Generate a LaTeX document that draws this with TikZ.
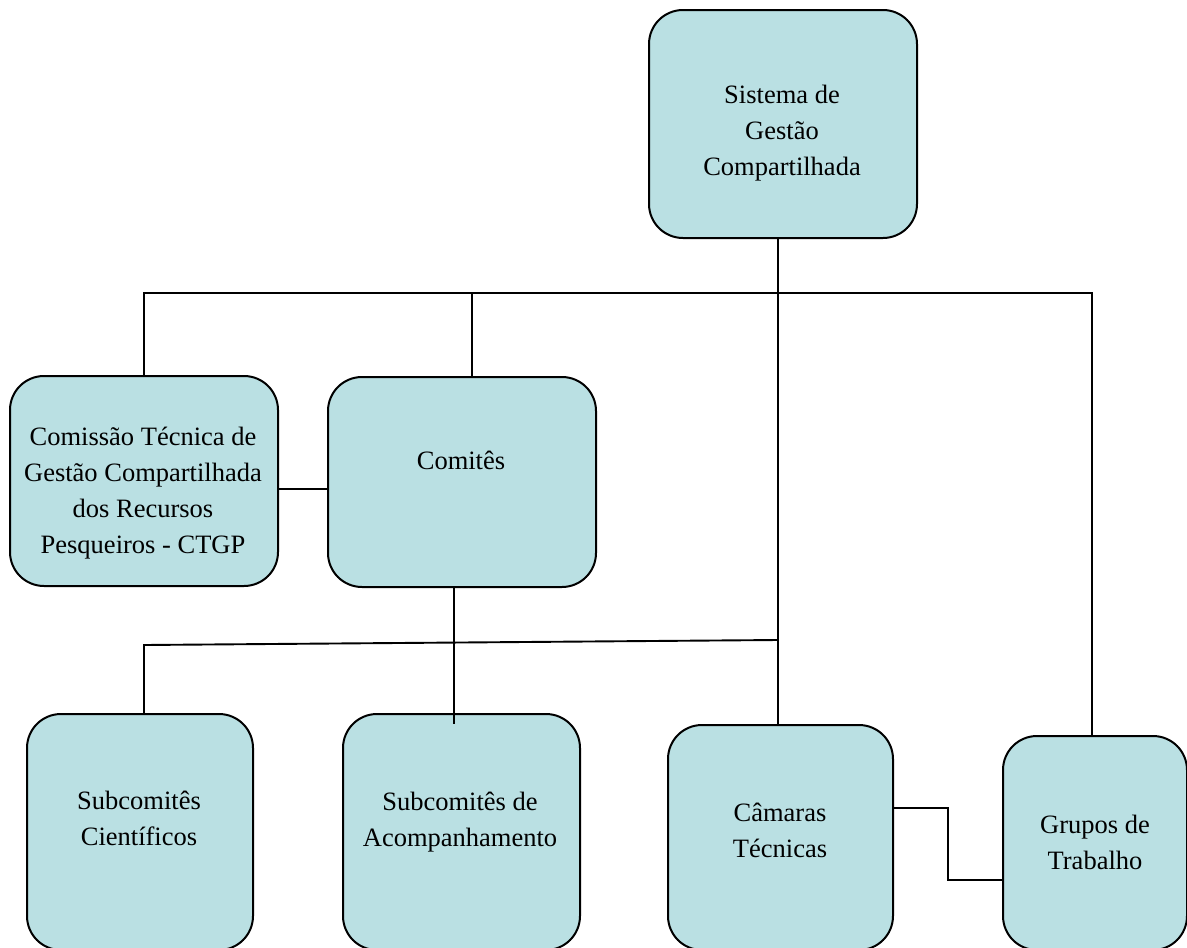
\documentclass[tikz,border=0pt]{standalone}
\usepackage{fontspec}
\setmainfont{Liberation Serif}
\definecolor{boxfill}{RGB}{186,224,227}
\begin{document}
\begin{tikzpicture}[x=1pt,y=-1pt,
  orgbox/.style={draw=black,line width=2pt,fill=boxfill,rounded corners=34pt,
    rectangle,inner sep=0pt,anchor=north west},
  lbl/.style={align=center,inner sep=0pt,font=\fontsize{26.5}{36}\selectfont},
  conn/.style={draw=black,line width=1.9pt}]
\useasboundingbox (0,0) rectangle (1187,948);
\clip (0,0) rectangle (1187,948);
% boxes
\node[orgbox,minimum width=268pt,minimum height=228pt] (sgc) at (648,9) {};
\node[orgbox,minimum width=268pt,minimum height=210pt] (ctgp) at (9,375) {};
\node[orgbox,minimum width=268pt,minimum height=210pt] (com) at (327,376) {};
\node[orgbox,minimum width=226pt,minimum height=236pt] (sci) at (26,713) {};
\node[orgbox,minimum width=237pt,minimum height=236pt] (sac) at (342,713) {};
\node[orgbox,minimum width=225pt,minimum height=225pt] (cam) at (667,724) {};
\node[orgbox,minimum width=184pt,minimum height=214pt] (gru) at (1002,735) {};
% labels
\node[lbl] (tsgc) at (782,133.5) {Sistema de\\Gestão\\Compartilhada};
\node[lbl] (tctgp) at (143,493.5) {Comissão Técnica de\\Gestão Compartilhada\\dos Recursos\\Pesqueiros - CTGP};
\node[lbl] (tcom) at (461,460) {Comitês};
\node[lbl] (tsci) at (139,818.5) {Subcomitês\\Científicos};
\node[lbl] (tsac) at (460,822) {Subcomitês de\\Acompanhamento};
\node[lbl] (tcam) at (780,830) {Câmaras\\Técnicas};
\node[lbl] (tgru) at (1095,842.5) {Grupos de\\Trabalho};
% helper coordinates
\coordinate (mainv) at (778,293);
\coordinate (comtap) at (472,293);
\coordinate (lnk) at (0,489);
\coordinate (comdown) at (454,724);
\coordinate (lbL) at (144,645);
\coordinate (lbR) at (778,640);
\coordinate (ctgptap) at (144,293);
\coordinate (grutap) at (1092,293);
\coordinate (cg1) at (948,808);
\coordinate (cg2) at (948,880);
% connectors
\draw[conn] (mainv |- sgc.south) -- (mainv |- cam.north);
\draw[conn] (ctgptap |- ctgp.north) -- (ctgptap) -- (grutap) -- (grutap |- gru.north);
\draw[conn] (comtap) -- (comtap |- com.north);
\draw[conn] (ctgp.east |- lnk) -- (com.west |- lnk);
\draw[conn] (comdown |- com.south) -- (comdown);
\draw[conn] (lbL |- sci.north) -- (lbL) -- (lbR);
\draw[conn] (cam.east |- cg1) -- (cg1) -- (cg2) -- (gru.west |- cg2);
\end{tikzpicture}
\end{document}
